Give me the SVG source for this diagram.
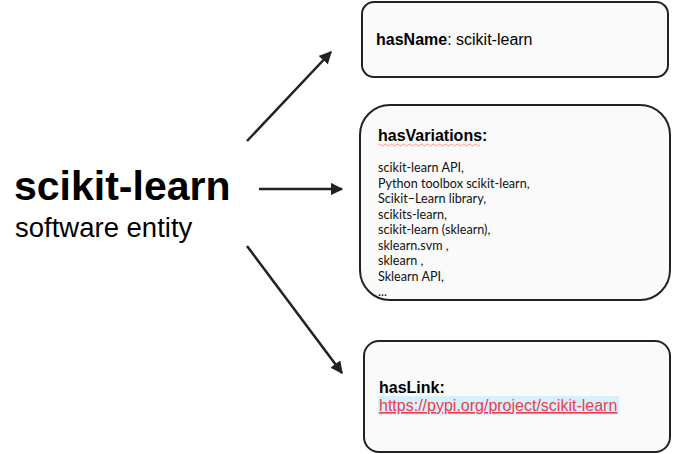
<svg xmlns="http://www.w3.org/2000/svg" width="683" height="454" viewBox="0 0 683 454">
<defs>
<style>
.box{fill:#fafafa;stroke:#222;stroke-width:2}
.sans{font-family:"Liberation Sans",Arial,sans-serif;fill:#000}
.lato{font-family:Lato,"Liberation Sans",sans-serif;fill:#111;font-size:12.6px}
.conn{stroke:#222;stroke-width:2.5;fill:none;marker-end:url(#ah)}
</style>
<marker id="ah" viewBox="0 0 10 10" refX="9" refY="5" markerWidth="5" markerHeight="5" orient="auto" markerUnits="strokeWidth">
<path d="M0,0 L10,5 L0,10 z" fill="#222"/>
</marker>
<clipPath id="c2"><rect x="361" y="106" width="308" height="193" rx="30"/></clipPath>
</defs>
<rect width="683" height="454" fill="#fff"/>
<g id="entity">
<text class="sans" x="14" y="200" font-size="41" font-weight="bold">scikit-learn</text>
<text class="sans" x="15" y="237" font-size="27.5">software entity</text>
</g>
<g id="connectors">
<line class="conn" x1="247" y1="141" x2="331" y2="52"/>
<line class="conn" x1="259" y1="189" x2="342" y2="189"/>
<line class="conn" x1="247" y1="246" x2="342" y2="373"/>
</g>
<g id="hasName">
<rect class="box" x="362" y="2" width="306" height="75" rx="12"/>
<text class="sans" x="376" y="45" font-size="16"><tspan font-weight="bold">hasName</tspan>: scikit-learn</text>
</g>
<g id="hasVariations">
<rect class="box" x="360" y="105" width="310" height="195" rx="30"/>
<text class="sans" x="378" y="141" font-size="16" font-weight="bold">hasVariations:</text>
<path d="M378,145 q1.5,-2 3,0 t3,0 t3,0 t3,0 t3,0 t3,0 t3,0 t3,0 t3,0 t3,0 t3,0 t3,0 t3,0 t3,0 t3,0 t3,0 t3,0 t3,0 t3,0 t3,0 t3,0 t3,0 t3,0 t3,0 t3,0 t3,0 t3,0 t3,0 t3,0 t3,0 t3,0 t3,0 t3,0 t3,0" fill="none" stroke="#f08080" stroke-width="0.8"/>
<g clip-path="url(#c2)">
<text class="lato" x="378" y="172">scikit-learn API,</text>
<text class="lato" x="378" y="187.5">Python toolbox scikit-learn,</text>
<text class="lato" x="378" y="203">Scikit–Learn library,</text>
<text class="lato" x="378" y="218.5">scikits-learn,</text>
<text class="lato" x="378" y="234">scikit-learn (sklearn),</text>
<text class="lato" x="378" y="249.5">sklearn.svm ,</text>
<text class="lato" x="378" y="265">sklearn ,</text>
<text class="lato" x="378" y="280.5">Sklearn API,</text>
<text class="lato" x="378" y="296">...</text>
</g>
</g>
<g id="hasLink">
<rect class="box" x="364" y="341" width="306" height="111" rx="15"/>
<text class="sans" x="379" y="393" font-size="16" font-weight="bold">hasLink:</text>
<rect x="378" y="396" width="241" height="19" fill="#d8f0fc"/>
<text class="sans" x="379" y="411" font-size="16" style="fill:#e8404a" text-decoration="underline">https://pypi.org/project/scikit-learn</text>
</g>
</svg>
